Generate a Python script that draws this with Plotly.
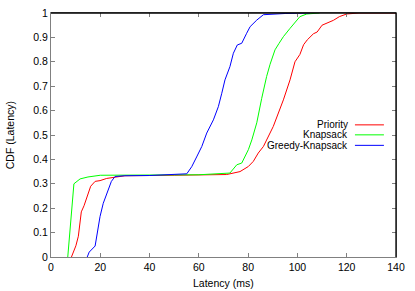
import plotly.graph_objects as go

# ---- data ----
priority_lat = [8.3, 10.1, 11.1, 12.3, 13.4, 14.7, 16.1, 17.9, 19.9, 22.6, 25.3, 30, 50, 71.3, 76.7, 80.1,
                82.1, 84.1, 86.2, 88.2, 90.2, 94.3, 97, 99, 101, 102.5, 104, 106.5, 108, 110, 114.6, 117, 120, 125, 140]
priority_cdf = [0, 0.046, 0.085, 0.185, 0.21, 0.25, 0.29, 0.31, 0.313, 0.322, 0.327, 0.333, 0.335, 0.338, 0.35, 0.371,
                0.392, 0.426, 0.453, 0.494, 0.535, 0.644, 0.726, 0.80, 0.83, 0.87, 0.89, 0.915, 0.922, 0.95, 0.97, 0.985, 0.996, 1.0, 1.0]

knapsack_lat = [6.8, 7.7, 8.6, 9.3, 11.8, 15, 20, 40, 60, 72.6, 75.4, 77.4, 78.7, 80.1, 81.5, 83.5, 85.5, 86.5,
                87.5, 88.9, 90.9, 92.5, 94.3, 97, 99.7, 101, 103.8, 109]
knapsack_cdf = [0, 0.1, 0.2, 0.30, 0.32, 0.328, 0.335, 0.336, 0.337, 0.344, 0.378, 0.385, 0.41, 0.44, 0.48, 0.55,
                0.65, 0.70, 0.74, 0.79, 0.849, 0.875, 0.903, 0.937, 0.971, 0.985, 0.996, 1.0]

greedy_lat = [14.7, 15.5, 17.9, 18.8, 19.9, 21.2, 22.9, 24.5, 26, 30, 40, 55.1, 57.1, 58.4, 59.1, 61.2, 63.2, 65.9,
              67.9, 69.3, 70.6, 72.6, 74, 75.6, 77.4, 79.4, 80.8, 83.5, 86.2, 95, 105]
greedy_cdf = [0, 0.02, 0.045, 0.1, 0.166, 0.22, 0.27, 0.31, 0.33, 0.333, 0.334, 0.341, 0.37, 0.40, 0.41, 0.453, 0.508, 0.562,
              0.616, 0.671, 0.726, 0.78, 0.835, 0.869, 0.876, 0.917, 0.944, 0.971, 0.993, 0.998, 1.0]

series_names = ["Priority", "Knapsack", "Greedy-Knapsack"]
series_colors = ["#ff0000", "#00ff00", "#0000ff"]
x_ticks = [0, 20, 40, 60, 80, 100, 120, 140]
y_ticks = [0, 0.1, 0.2, 0.3, 0.4, 0.5, 0.6, 0.7, 0.8, 0.9, 1]
y_tick_text = ["0", "0.1", "0.2", "0.3", "0.4", "0.5", "0.6", "0.7", "0.8", "0.9", "1"]

FONT = "Liberation Sans, Arial, Helvetica, sans-serif"
FS = 10.5

fig = go.Figure()
for name, color, xs, ys in zip(series_names, series_colors,
                               [priority_lat, knapsack_lat, greedy_lat],
                               [priority_cdf, knapsack_cdf, greedy_cdf]):
    fig.add_trace(go.Scatter(x=xs, y=ys, mode="lines", name=name,
                             line=dict(color=color, width=1), showlegend=False))

axis_common = dict(showgrid=False, zeroline=False, showline=True, linecolor="#808080", linewidth=1,
                   mirror="ticks", ticks="inside", ticklen=4, tickcolor="#808080", tickwidth=1,
                   automargin=False,
                   tickfont=dict(family=FONT, size=FS, color="#000000"))

fig.update_layout(
    width=415, height=291,
    margin=dict(l=51, r=19, t=13, b=34, autoexpand=False),
    paper_bgcolor="white", plot_bgcolor="white",
    font=dict(family=FONT, size=FS, color="#000000"),
    xaxis=dict(range=[0, 140], tickvals=x_ticks, **axis_common),
    yaxis=dict(range=[0, 1], tickvals=y_ticks, ticktext=y_tick_text, **axis_common),
)

# axis titles
fig.add_annotation(xref="paper", yref="paper", x=0.5, y=-0.106, text="Latency (ms)", showarrow=False,
                   xanchor="center", yanchor="middle", font=dict(family=FONT, size=FS))
fig.add_annotation(xref="paper", yref="paper", x=-0.118, y=0.5, text="CDF (Latency)", showarrow=False,
                   textangle=-90, xanchor="center", yanchor="middle", font=dict(family=FONT, size=FS))

# top/right border in black
fig.add_shape(type="line", xref="paper", yref="paper", x0=0, x1=1, y0=1, y1=1,
              line=dict(color="black", width=1.3))
fig.add_shape(type="line", xref="paper", yref="paper", x0=1, x1=1, y0=0, y1=1,
              line=dict(color="black", width=1.3))

# gnuplot-style legend: right-aligned text, line sample on the right
leg_y = [0.5415, 0.5006, 0.4576]
for name, color, yy in zip(series_names, series_colors, leg_y):
    fig.add_annotation(xref="paper", yref="paper", x=0.864, y=yy, text=name, showarrow=False,
                       xanchor="right", yanchor="middle", borderpad=0,
                       font=dict(family=FONT, size=10, color="black"))
    fig.add_shape(type="line", xref="paper", yref="paper", x0=0.881, x1=0.965, y0=yy, y1=yy,
                  line=dict(color=color, width=1))

fig.write_html("out.html", config={"displayModeBar": False},
               post_script="document.body.style.margin='0';document.body.style.overflow='hidden';")
